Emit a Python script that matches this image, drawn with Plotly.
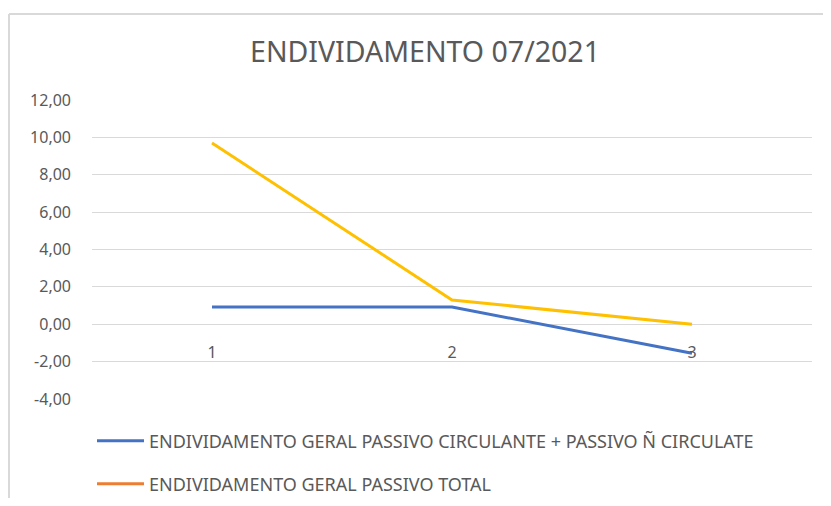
import plotly.graph_objects as go

categories = ["1", "2", "3"]
geral_circ = [0.92, 0.92, -1.55]
geral_total = [9.7, 1.3, 0.0]
y_tick_vals = [-4, -2, 0, 2, 4, 6, 8, 10, 12]
y_tick_labels = ["-4,00", "-2,00", "0,00", "2,00", "4,00", "6,00", "8,00", "10,00", "12,00"]

name1 = "ENDIVIDAMENTO GERAL PASSIVO CIRCULANTE + PASSIVO Ñ CIRCULATE"
name2 = "ENDIVIDAMENTO GERAL PASSIVO TOTAL"

BLUE = "#4472C4"
YELLOW = "#FFC000"
ORANGE = "#ED7D31"
TXT = "#595959"

fig = go.Figure()
fig.add_trace(go.Scatter(x=categories, y=geral_circ, mode="lines", name=name1,
                         line=dict(color=BLUE, width=3), legend="legend"))
fig.add_trace(go.Scatter(x=categories, y=geral_total, mode="lines", name=name2,
                         line=dict(color=YELLOW, width=3), showlegend=False))
fig.add_trace(go.Scatter(x=[None], y=[None], mode="lines", name=name2,
                         line=dict(color=ORANGE, width=3), legend="legend2"))

# page is rendered with an 8px body margin; keep the whole page inside the window
OFF = 8
W, H = 831 - 2 * OFF, 506 - 2 * OFF
L, T = 92 - OFF, 100 - OFF
pw, ph = 720, 299
R = W - L - pw
B = H - T - ph

def px(x):
    return (x - OFF - L) / pw

def py(y):
    return (T + ph - (y - OFF)) / ph

fig.update_layout(
    width=W, height=H,
    margin=dict(l=L, r=R, t=T, b=B, autoexpand=False),
    paper_bgcolor="white", plot_bgcolor="white",
    font=dict(family="Noto Sans, sans-serif", color=TXT, size=16),
    title=dict(text="ENDIVIDAMENTO 07/2021", x=(425 - OFF) / W, xanchor="center",
               xref="container", y=1 - (52 - OFF) / H, yref="container",
               yanchor="middle",
               font=dict(size=28.5, color=TXT, family="Noto Sans, sans-serif")),
    xaxis=dict(type="category", range=[-0.5, 2.5], showgrid=False,
               zeroline=False, showline=False, automargin=False,
               ticks="", anchor="free", position=4 / 16,
               ticklabelstandoff=17, tickfont=dict(size=16, color=TXT)),
    yaxis=dict(range=[-4, 12], tickvals=y_tick_vals, ticktext=y_tick_labels,
               showgrid=True, gridcolor="#D9D9D9", gridwidth=1, zeroline=False,
               showline=False, ticks="", ticklabelstandoff=20, automargin=False,
               tickfont=dict(size=16, color=TXT)),
    legend=dict(x=px(92), y=py(441), xanchor="left", yanchor="middle",
                font=dict(size=18, color=TXT), bgcolor="rgba(0,0,0,0)",
                itemwidth=47),
    legend2=dict(x=px(92), y=py(484), xanchor="left", yanchor="middle",
                 font=dict(size=18, color=TXT), bgcolor="rgba(0,0,0,0)",
                 itemwidth=47),
    shapes=[
        dict(type="line", xref="paper", yref="paper", x0=px(9), x1=px(9),
             y0=py(14), y1=py(506), line=dict(color="#D9D9D9", width=2)),
        dict(type="line", xref="paper", yref="paper", x0=px(9), x1=px(831),
             y0=py(14), y1=py(14), line=dict(color="#D9D9D9", width=2)),
    ],
)

fig.write_html("out.html")
